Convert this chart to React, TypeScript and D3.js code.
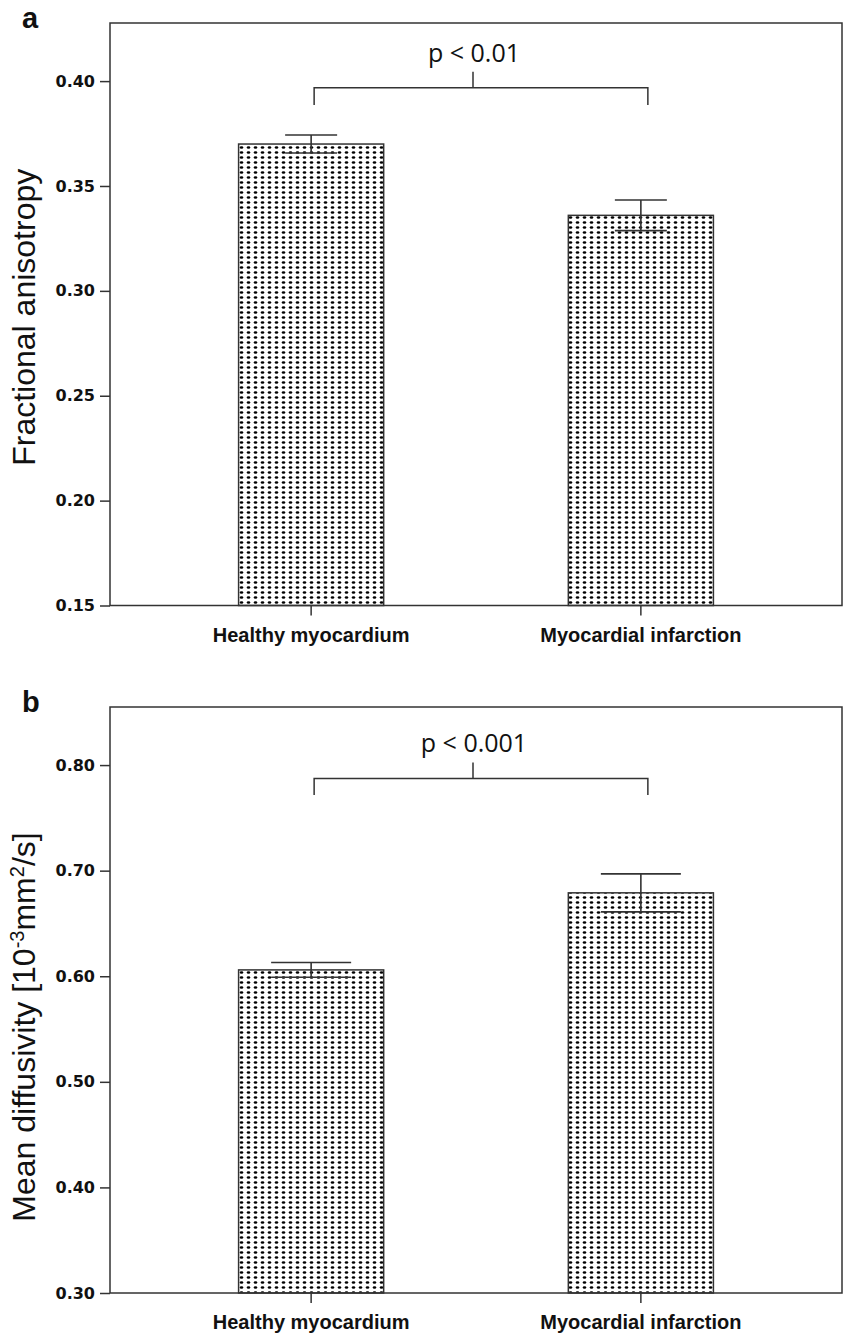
import React, { useRef, useEffect } from 'react';
import * as d3 from 'd3';

// categories and values
const categories = ['Healthy myocardium', 'Myocardial infarction'];

const faMeans = [0.370, 0.336];
const faErrors = [0.0043, 0.0073];
const faTicks = [0.15, 0.20, 0.25, 0.30, 0.35, 0.40];

const mdMeans = [0.606, 0.679];
const mdErrors = [0.007, 0.018];
const mdTicks = [0.30, 0.40, 0.50, 0.60, 0.70, 0.80];

const W = 844;
const H = 1334;
const LINE = '#333';

type Panel = {
  label: string;
  means: number[];
  errors: number[];
  ticks: number[];
  domain: [number, number];
  top: number;
  bottom: number;
  capWidth: number;
  bracketLevel: number;
  bracketDrop: number;
  pText: string;
  titleOffset: number;
  title: (t: d3.Selection<SVGTextElement, unknown, null, undefined>) => void;
};

const panels: Panel[] = [
  {
    label: 'a',
    means: faMeans,
    errors: faErrors,
    ticks: faTicks,
    domain: [0.15, 0.4277],
    top: 23,
    bottom: 605.5,
    capWidth: 52,
    bracketLevel: 0.3968,
    bracketDrop: 0.3886,
    pText: 'p < 0.01',
    titleOffset: 3,
    title: (t) => t.text('Fractional anisotropy'),
  },
  {
    label: 'b',
    means: mdMeans,
    errors: mdErrors,
    ticks: mdTicks,
    domain: [0.30, 0.855],
    top: 707,
    bottom: 1293,
    capWidth: 80,
    bracketLevel: 0.7874,
    bracketDrop: 0.7716,
    pText: 'p < 0.001',
    titleOffset: 27,
    title: (t) => {
      t.append('tspan').text('Mean diffusivity [10');
      t.append('tspan').attr('dy', -11).attr('font-size', 20).text('-3');
      t.append('tspan').attr('dy', 11).text('mm');
      t.append('tspan').attr('dy', -11).attr('font-size', 20).text('2');
      t.append('tspan').attr('dy', 11).text('/s]');
    },
  },
];

const App: React.FC = () => {
  const svgRef = useRef<SVGSVGElement | null>(null);

  useEffect(() => {
    const svg = d3.select(svgRef.current);
    svg.selectAll('*').remove();

    // dotted fill of the bars
    const pat = svg.append('defs').append('pattern')
      .attr('id', 'dots')
      .attr('patternUnits', 'userSpaceOnUse')
      .attr('width', 7)
      .attr('height', 5);
    pat.append('rect').attr('width', 7).attr('height', 5).attr('fill', '#fff');
    pat.append('ellipse')
      .attr('cx', 3.5).attr('cy', 2.5)
      .attr('rx', 1.8).attr('ry', 1.3)
      .attr('fill', '#000');

    const left = 110;
    const right = 842;

    const x = d3.scaleBand<string>()
      .domain(categories)
      .range([left, right])
      .paddingInner(0.56)
      .paddingOuter(0.39);
    const bw = x.bandwidth();
    const cx = (c: string) => (x(c) ?? 0) + bw / 2;

    panels.forEach((p) => {
      const y = d3.scaleLinear().domain(p.domain).range([p.bottom, p.top]);
      const g = svg.append('g');

      // panel letter
      g.append('text')
        .attr('x', 22)
        .attr('y', p.top + 5)
        .attr('font-family', 'Liberation Sans, Arial, sans-serif')
        .attr('font-weight', 'bold')
        .attr('font-size', 29)
        .attr('fill', '#111')
        .text(p.label);

      // bars
      g.selectAll('rect.bar')
        .data(p.means)
        .enter()
        .append('rect')
        .attr('class', 'bar')
        .attr('x', (_, i) => x(categories[i]) ?? 0)
        .attr('y', (d) => y(d))
        .attr('width', bw)
        .attr('height', (d) => p.bottom - y(d))
        .attr('fill', 'url(#dots)')
        .attr('stroke', LINE)
        .attr('stroke-width', 1.5);

      // error bars
      p.means.forEach((m, i) => {
        const c = cx(categories[i]);
        const e = p.errors[i];
        const eg = g.append('g').attr('stroke', LINE).attr('stroke-width', 1.6);
        eg.append('line').attr('x1', c).attr('x2', c).attr('y1', y(m - e)).attr('y2', y(m + e));
        eg.append('line').attr('x1', c - p.capWidth / 2).attr('x2', c + p.capWidth / 2)
          .attr('y1', y(m + e)).attr('y2', y(m + e));
        eg.append('line').attr('x1', c - p.capWidth / 2).attr('x2', c + p.capWidth / 2)
          .attr('y1', y(m - e)).attr('y2', y(m - e));
      });

      // frame
      g.append('rect')
        .attr('x', left)
        .attr('y', p.top)
        .attr('width', right - left)
        .attr('height', p.bottom - p.top)
        .attr('fill', 'none')
        .attr('stroke', LINE)
        .attr('stroke-width', 1.5);

      // y axis
      const yAxis = g.append('g')
        .attr('transform', `translate(${left},0)`)
        .call(d3.axisLeft(y).tickValues(p.ticks).tickFormat(d3.format('.2f')).tickSize(10).tickPadding(5));
      yAxis.select('.domain').remove();
      yAxis.selectAll('line').attr('stroke', LINE).attr('stroke-width', 1.5);
      yAxis.selectAll('text')
        .attr('font-family', 'DejaVu Sans, Verdana, sans-serif')
        .attr('font-weight', 'bold')
        .attr('font-size', 16)
        .attr('fill', '#111');

      // x axis
      const xAxis = g.append('g')
        .attr('transform', `translate(0,${p.bottom})`)
        .call(d3.axisBottom(x).tickSize(10).tickPadding(12));
      xAxis.select('.domain').remove();
      xAxis.selectAll('line').attr('stroke', LINE).attr('stroke-width', 1.5);
      xAxis.selectAll('text')
        .attr('font-family', 'Liberation Sans, Arial, sans-serif')
        .attr('font-weight', 'bold')
        .attr('font-size', 20)
        .attr('fill', '#111');

      // y title
      const t = g.append('text')
        .attr('transform', `translate(35,${(p.top + p.bottom) / 2 + p.titleOffset}) rotate(-90)`)
        .attr('text-anchor', 'middle')
        .attr('font-family', 'Liberation Sans, Arial, sans-serif')
        .attr('font-size', 32)
        .attr('fill', '#111');
      p.title(t);

      // significance bracket
      const c1 = cx(categories[0]);
      const c2 = cx(categories[1]);
      const bx1 = c1 + 3;
      const bx2 = c2 + 7;
      const mid = (c1 + c2) / 2 - 3;
      const by = y(p.bracketLevel);
      g.append('path')
        .attr('d', `M${bx1},${y(p.bracketDrop)}V${by}H${bx2}V${y(p.bracketDrop)}M${mid},${by}V${by - 16}`)
        .attr('fill', 'none')
        .attr('stroke', LINE)
        .attr('stroke-width', 1.5);
      g.append('text')
        .attr('x', mid + 1)
        .attr('y', by - 26)
        .attr('text-anchor', 'middle')
        .attr('font-family', 'Open Sans, sans-serif')
        .attr('font-size', 25)
        .attr('fill', '#111')
        .text(p.pText);
    });
  }, []);

  return (
    <svg
      ref={svgRef}
      width={W}
      height={H}
      style={{ position: 'absolute', left: 0, top: 0, background: '#fff' }}
    />
  );
};

export default App;
